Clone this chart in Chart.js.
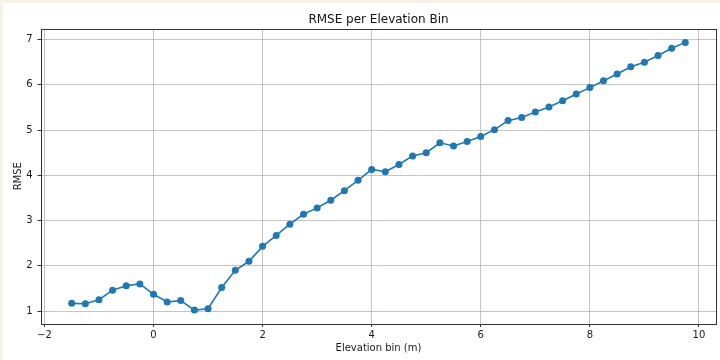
<!DOCTYPE html>
<html>
<head>
<meta charset="utf-8">
<title>RMSE per Elevation Bin</title>
<script src="https://cdn.jsdelivr.net/npm/chart.js@4.4.1/dist/chart.umd.min.js"></script>
<style>
    html, body { margin: 0; padding: 0; background: #f6f3e6; }
    #wrap { position: absolute; left: 3px; top: 3px; width: 717px; height: 357px; background: #ffffff; }
    canvas { display: block; }
</style>
</head>
<body>
<div id="wrap"><canvas id="chart" width="717" height="357"></canvas></div>
<script>
// Elevation bins (m) and the RMSE measured in each
var elevationBins = [
    -1.5, -1.25, -1.0, -0.75, -0.5, -0.25, 0.0, 0.25, 0.5, 0.75, 1.0, 1.25,
    1.5, 1.75, 2.0, 2.25, 2.5, 2.75, 3.0, 3.25, 3.5, 3.75, 4.0, 4.25,
    4.5, 4.75, 5.0, 5.25, 5.5, 5.75, 6.0, 6.25, 6.5, 6.75, 7.0, 7.25,
    7.5, 7.75, 8.0, 8.25, 8.5, 8.75, 9.0, 9.25, 9.5, 9.75
];
var rmseValues = [
    1.17, 1.16, 1.25, 1.46, 1.56, 1.60, 1.37, 1.20, 1.23, 1.02, 1.05, 1.52,
    1.90, 2.10, 2.43, 2.67, 2.92, 3.14, 3.28, 3.45, 3.66, 3.89, 4.13, 4.08,
    4.24, 4.43, 4.50, 4.72, 4.65, 4.75, 4.86, 5.01, 5.21, 5.28, 5.40, 5.51,
    5.65, 5.80, 5.94, 6.09, 6.24, 6.40, 6.50, 6.65, 6.81, 6.94
];
var xTicks = [-2, 0, 2, 4, 6, 8, 10];
var yTicks = [1, 2, 3, 4, 5, 6, 7];

var xMin = -2.0625, xMax = 10.3125;
var yMin = 0.724, yMax = 7.236;

Chart.defaults.font.family = "'DejaVu Sans', sans-serif";
Chart.defaults.font.size = 10;
Chart.defaults.color = '#1a1a1a';

// axes frame on all four sides
var frame = {
    id: 'frame',
    afterDraw: function(chart) {
        var a = chart.chartArea, c = chart.ctx;
        c.save();
        c.strokeStyle = '#333333';
        c.lineWidth = 1;
        c.strokeRect(Math.round(a.left) + 0.5, Math.round(a.top) + 0.5,
            Math.round(a.right - a.left), Math.round(a.bottom - a.top));
        c.restore();
    }
};

function minus(v) {
    return String(v).replace('-', '\u2212');
}

var points = elevationBins.map(function(x, i) {
    return { x: x, y: rmseValues[i] };
});

var ctx = document.getElementById('chart').getContext('2d');
var chart = new Chart(ctx, {
    type: 'line',
    data: {
        datasets: [{
            data: points,
            borderColor: '#1f77b4',
            backgroundColor: '#1f77b4',
            borderWidth: 1.6,
            pointRadius: 3.5,
            pointBorderWidth: 0,
            tension: 0
        }]
    },
    options: {
        responsive: false,
        animation: false,
        devicePixelRatio: 1,
        layout: { padding: { left: 0, right: 3, top: 0, bottom: 0 } },
        plugins: {
            legend: { display: false },
            tooltip: { enabled: false },
            title: {
                display: true,
                text: 'RMSE per Elevation Bin',
                fullSize: false,
                color: '#111111',
                font: { size: 12, weight: 'normal' },
                padding: { top: 9.3, bottom: 2.3 }
            }
        },
        scales: {
            x: {
                type: 'linear',
                min: xMin,
                max: xMax,
                afterBuildTicks: function(scale) {
                    scale.ticks = xTicks.map(function(v) { return { value: v }; });
                },
                afterFit: function(scale) { scale.height = 36.5; },
                ticks: {
                    padding: 2,
                    maxRotation: 0,
                    callback: function(v) { return minus(v); }
                },
                grid: {
                    color: 'rgba(176,176,176,0.75)',
                    lineWidth: 1,
                    tickColor: '#333333',
                    tickLength: 3.5
                },
                border: { display: false },
                title: {
                    display: true,
                    text: 'Elevation bin (m)',
                    font: { size: 10 },
                    padding: { top: 0, bottom: 6 }
                }
            },
            y: {
                min: yMin,
                max: yMax,
                afterBuildTicks: function(scale) {
                    scale.ticks = yTicks.map(function(v) { return { value: v }; });
                },
                afterFit: function(scale) { scale.width = 38; },
                ticks: {
                    padding: 5,
                    callback: function(v) { return minus(v); }
                },
                grid: {
                    color: 'rgba(176,176,176,0.75)',
                    lineWidth: 1,
                    tickColor: '#333333',
                    tickLength: 3.5
                },
                border: { display: false },
                title: {
                    display: true,
                    text: 'RMSE',
                    font: { size: 10 },
                    padding: { top: 9, bottom: 0 }
                }
            }
        }
    },
    plugins: [frame]
});
</script>
</body>
</html>
